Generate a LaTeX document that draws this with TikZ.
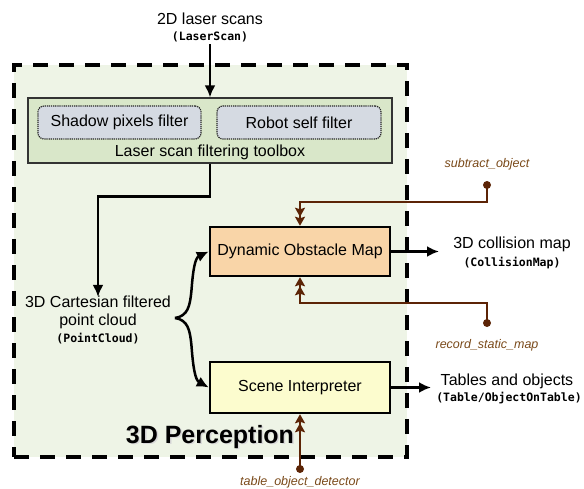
\documentclass[tikz,border=0pt]{standalone}
\usepackage{fontspec}
\setmainfont{Liberation Sans}
\newfontfamily\monof{DejaVu Sans Mono}
\usetikzlibrary{arrows.meta,calc}
\definecolor{outerg}{HTML}{EEF4E6}
\definecolor{toolg}{HTML}{D9E7C9}
\definecolor{filtb}{HTML}{D5DAE2}
\definecolor{dynor}{HTML}{F9D5A8}
\definecolor{scny}{HTML}{FCFCCE}
\definecolor{brn}{HTML}{5C2406}
\definecolor{brntxt}{HTML}{7A4A1A}
\tikzset{
  txt/.style={inner sep=0pt, font=\fontsize{16}{18}\selectfont},
  mono/.style={inner sep=0pt, font=\monof\bfseries\fontsize{11.5}{12}\selectfont},
  plabel/.style={inner sep=0pt, text=brntxt, font=\itshape\fontsize{12.5}{14}\selectfont},
  filterbox/.style={draw=black!85, fill=filtb, rounded corners=6pt, line width=1.2pt, dash pattern=on 1.2pt off 0.9pt, minimum height=33pt, font=\fontsize{16}{18}\selectfont, inner sep=0pt},
  procbox/.style={draw=black, line width=2.5pt, minimum width=180pt, font=\fontsize{16}{18}\selectfont, inner sep=0pt},
  arr/.style={draw=black, line width=2.5pt, -{Latex[length=12pt,width=11pt]}},
  barr/.style={draw=brn, line width=2pt, -{Stealth[length=9pt,width=10pt,inset=1.5pt]Stealth[length=9pt,width=10pt,inset=1.5pt]}},
  pdot/.style={circle, fill=brn, inner sep=0pt, minimum size=8pt},
}
\begin{document}
\begin{tikzpicture}[x=1pt,y=-1pt]
\useasboundingbox (0,0) rectangle (584,489);
% outer perception region
\node[draw=black, fill=outerg, line width=3.5pt, dash pattern=on 15pt off 11pt, minimum width=393pt, minimum height=392pt, inner sep=0pt] (perc) at (210.5,261) {};
\node[inner sep=0pt, font=\bfseries\fontsize{25}{28}\selectfont, text=black!15] at (211.5,438.5) {3D Perception};
\node[inner sep=0pt, font=\bfseries\fontsize{25}{28}\selectfont] (perctitle) at (210,437) {3D Perception};

% laser scans input
\node[txt] (laser) at (210,19) {2D laser scans};
\node[mono] (lasertype) at (210,37) {(LaserScan)};

% toolbox
\node[draw=black!80, fill=toolg, line width=1.2pt, minimum width=364pt, minimum height=65pt, inner sep=0pt] (toolbox) at (210,130.5) {};
\node[filterbox, minimum width=163pt] (shadow) at (119.5,122.5) {Shadow pixels filter};
\node[filterbox, minimum width=164pt] (robot) at (299,122.5) {Robot self filter};
\node[txt] (toollabel) at (210,152) {Laser scan filtering toolbox};

\draw[arr] (lasertype.south) ++(0,2) -- (toolbox.north);

% point cloud
\node[txt] (pc1) at (98,302) {3D Cartesian filtered};
\node[txt] (pc2) at (98,321) {point cloud};
\node[mono] (pc3) at (98,339) {(PointCloud)};
\draw[arr] (toolbox.south) -- ++(0,33) -| ([yshift=-1pt]pc1.north);

% processing boxes
\node[procbox, fill=dynor, minimum height=49pt] (dyn) at (300,251.5) {Dynamic Obstacle Map};
\node[procbox, fill=scny, minimum height=51pt] (scene) at (300,387.5) {Scene Interpreter};

% brace
\coordinate (brace) at (175,318);
\draw[arr] (brace) .. controls (188,316) and (190,306) .. (191.5,290) .. controls (193,270) and (195,258) .. (dyn.west);
\draw[arr] (brace) .. controls (188,320) and (190,330) .. (191.5,346) .. controls (193,366) and (195,380) .. (scene.west);

% outputs
\coordinate (cmapin) at (439,251.5);
\node[txt] (cmap) at (512,244) {3D collision map};
\node[mono] (cmaptype) at (512,263) {(CollisionMap)};
\draw[arr] (dyn.east) -- (cmapin);

\coordinate (tabin) at (431,387.5);
\node[txt] (tab) at (507,381) {Tables and objects};
\node[mono] (tabtype) at (509,398) {(Table/ObjectOnTable)};
\draw[arr] (scene.east) -- (tabin);

% plugins / services
\node[plabel] (sublabel) at (487,164) {subtract\_object};
\node[pdot] (sdot) at (487,185) {};
\draw[barr] (sdot.center) -- ++(0,17) -| (dyn.north);

\node[pdot] (rdot) at (487,323) {};
\node[plabel] (reclabel) at (487,345) {record\_static\_map};
\draw[barr] (rdot.center) -- ++(0,-20) -| (dyn.south);

\node[pdot] (tdot) at (300,469) {};
\node[plabel] (tablabel) at (300,482) {table\_object\_detector};
\draw[barr] (tdot.center) -- (scene.south);
\end{tikzpicture}
\end{document}
